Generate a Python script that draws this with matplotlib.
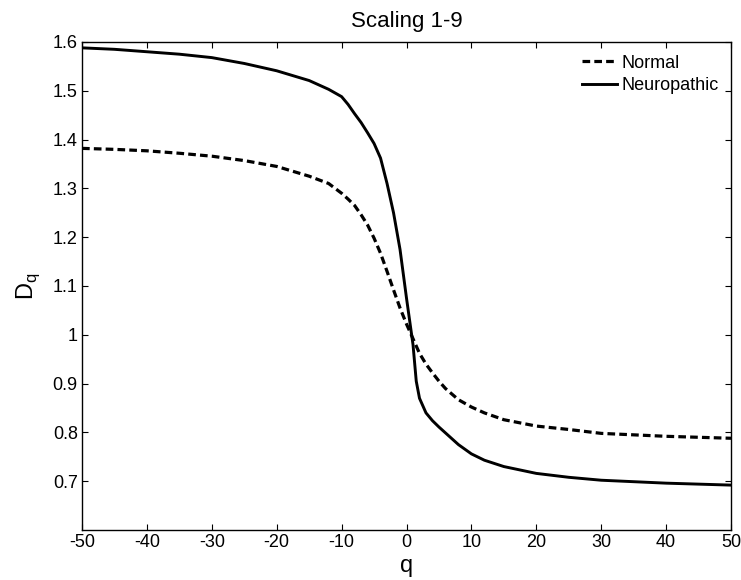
"""Generalized dimension spectrum D_q for normal vs neuropathic groups."""

import matplotlib

matplotlib.use("Agg")
import matplotlib.pyplot as plt

plt.rcParams["font.family"] = ["Liberation Sans", "DejaVu Sans"]
plt.rcParams["axes.unicode_minus"] = False
plt.rcParams["mathtext.fontset"] = "custom"
plt.rcParams["mathtext.rm"] = "Liberation Sans"

q_values = [-50, -45, -40, -35, -30, -25, -20, -15, -12, -10, -9, -8, -7, -6, -5,
            -4, -3, -2, -1, 0, 1, 1.5, 2, 3, 4, 5, 6, 8, 10, 12, 15, 20, 25, 30,
            35, 40, 45, 50]

normal_dq = [1.382, 1.380, 1.377, 1.372, 1.366, 1.357, 1.345, 1.325, 1.310, 1.290,
             1.278, 1.265, 1.246, 1.225, 1.198, 1.167, 1.130, 1.092, 1.055, 1.022,
             0.992, 0.977, 0.962, 0.940, 0.922, 0.905, 0.890, 0.867, 0.852, 0.840,
             0.826, 0.813, 0.806, 0.798, 0.795, 0.792, 0.790, 0.788]

neuropathic_dq = [1.588, 1.585, 1.580, 1.575, 1.568, 1.556, 1.541, 1.521, 1.503, 1.488,
                  1.472, 1.453, 1.435, 1.414, 1.392, 1.362, 1.310, 1.250, 1.175, 1.075,
                  0.980, 0.905, 0.870, 0.840, 0.824, 0.811, 0.799, 0.775, 0.756, 0.743,
                  0.730, 0.716, 0.708, 0.702, 0.699, 0.696, 0.694, 0.692]

x_ticks = list(range(-50, 51, 10))
y_ticks = [0.7, 0.8, 0.9, 1.0, 1.1, 1.2, 1.3, 1.4, 1.5, 1.6]
y_tick_labels = ["0.7", "0.8", "0.9", "1", "1.1", "1.2", "1.3", "1.4", "1.5", "1.6"]

fig = plt.figure(figsize=(7.41, 5.80), dpi=100)
ax = fig.add_axes([0.1107, 0.0862, 0.8758, 0.8414])

ax.plot(q_values, normal_dq, color="black", linewidth=2.3,
        linestyle=(0, (2.4, 1.3)), label="Normal")
ax.plot(q_values, neuropathic_dq, color="black", linewidth=2.1,
        linestyle="-", label="Neuropathic")

ax.set_xlim(-50, 50)
ax.set_ylim(0.6, 1.6)
ax.set_xticks(x_ticks)
ax.set_yticks(y_ticks)
ax.set_yticklabels(y_tick_labels)
ax.tick_params(direction="in", top=True, right=True, length=4.5, width=0.8,
               labelsize=13, pad=3)
for spine in ax.spines.values():
    spine.set_linewidth(1.0)

ax.set_title("Scaling 1-9", fontsize=16, pad=11)
ax.set_xlabel("q", fontsize=17, labelpad=3)
ax.set_ylabel(r"D$_\mathregular{q}$", fontsize=17, labelpad=8)

ax.legend(loc="upper right", frameon=False, fontsize=13, handlelength=1.9,
          handletextpad=0.25, borderaxespad=0.3, labelspacing=0.3)

fig.savefig("out.png", dpi=100)
